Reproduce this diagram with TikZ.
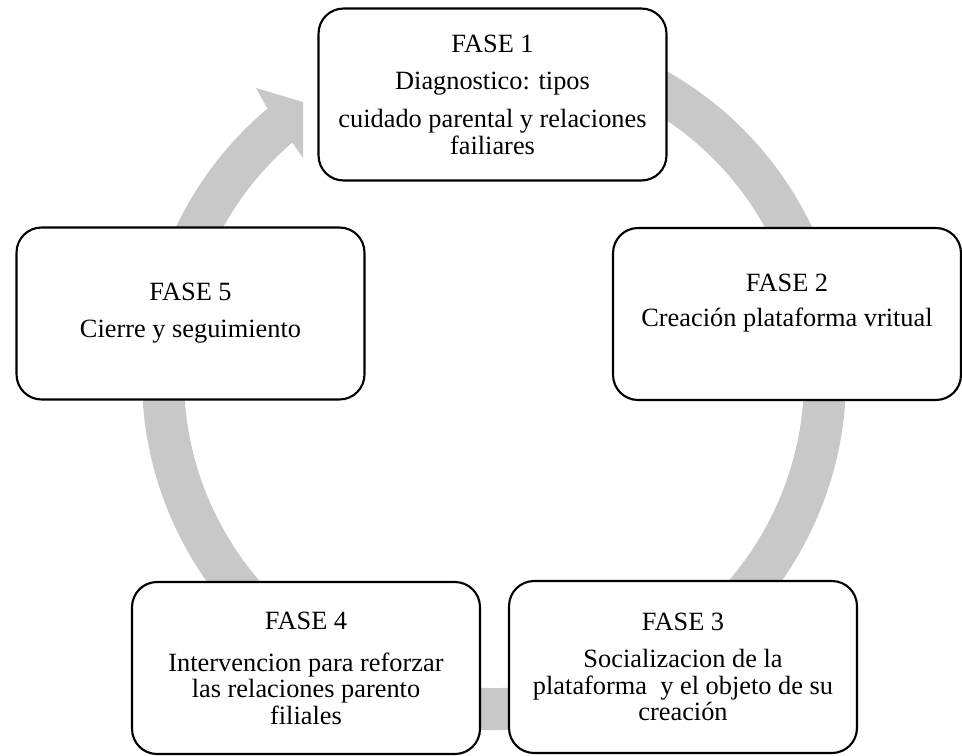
\documentclass[tikz,border=0pt]{standalone}
\usepackage{fontspec}
\newfontfamily\fasefont{Liberation Serif}

\definecolor{ringgray}{RGB}{200,200,200}

\begin{document}
\begin{tikzpicture}[
		x=0.02cm, y=0.02cm,
		fase/.style={
			draw,
			fill=white,
			rounded corners=0.5cm,
			line width=1.2pt,
			minimum width=6.96cm,
			minimum height=3.44cm,
			align=center,
			font=\fasefont\fontsize{15}{15}\selectfont
		},
		ring/.style={
			draw=ringgray,
			line width=0.84cm
		}
		]
		\useasboundingbox (0,0) rectangle (962,755);
		\coordinate (c) at (494,377);
		% ciclo
		\draw[ring] (c) ++(118:331) arc[start angle=118, end angle=-230, radius=331];
		\fill[ringgray] (266,649) -- (256,667) -- (303,653) -- (303,597) -- (292,613) -- cycle;
		% fases
		\node[fase] (f1) at (492.5,660.5) {FASE 1\\[6pt] Diagnostico: tipos\\[7pt] cuidado parental y relaciones\\ failiares};
		\node[fase] (f2) at (787,441) {FASE 2\\[5pt] Creación plataforma vritual\\[1pt] \mbox{}};
		\node[fase] (f3) at (683,88) {FASE 3\\[6pt] Socializacion de la\\ plataforma\ \ y el objeto de su\\ creación};
		\node[fase] (f4) at (306,87) {FASE 4\\[9pt] Intervencion para reforzar\\ las relaciones parento\\ filiales};
		\node[fase] (f5) at (190.5,441.5) {FASE 5\\[6pt] Cierre y seguimiento};
\end{tikzpicture}
\end{document}
